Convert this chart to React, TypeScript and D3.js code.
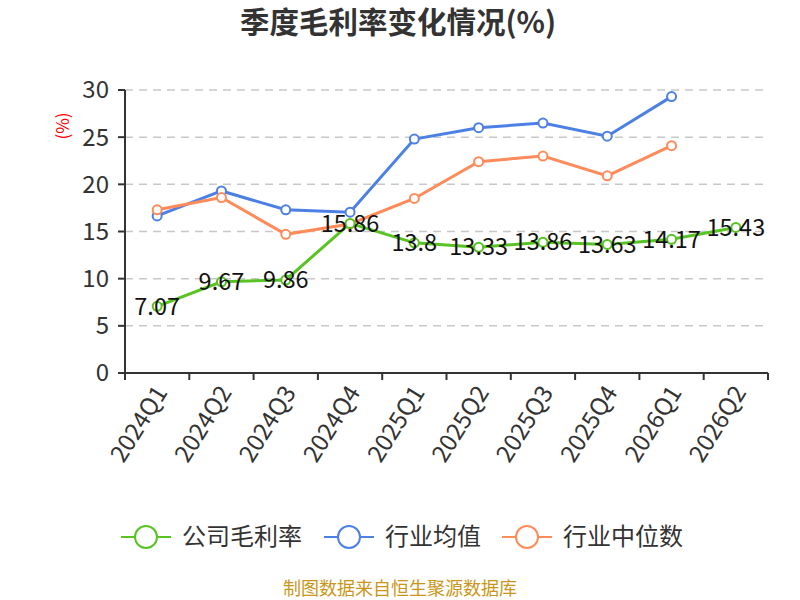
import React from "react";
import * as d3 from "d3";

const quarters = ["2024Q1", "2024Q2", "2024Q3", "2024Q4", "2025Q1", "2025Q2", "2025Q3", "2025Q4", "2026Q1", "2026Q2"];
const companyMargin = [7.07, 9.67, 9.86, 15.86, 13.8, 13.33, 13.86, 13.63, 14.17, 15.43];
const industryAvg = [16.65, 19.3, 17.3, 17.05, 24.8, 26.0, 26.5, 25.1, 29.3];
const industryMedian = [17.3, 18.6, 14.7, 15.8, 18.5, 22.4, 23.0, 20.9, 24.1];
const yTicks = [0, 5, 10, 15, 20, 25, 30];

const seriesNames = ["公司毛利率", "行业均值", "行业中位数"];
const colors = ["#58c322", "#4d80e4", "#ff8b5a"];

const font = "'Noto Sans CJK SC', 'Noto Sans', sans-serif";

const width = 800;
const height = 600;
const margin = { top: 90, right: 32, bottom: 227, left: 125 };
const innerW = width - margin.left - margin.right;
const innerH = height - margin.top - margin.bottom;

const App: React.FC = () => {
  const x = d3.scaleBand<string>().domain(quarters).range([0, innerW]);
  const y = d3.scaleLinear().domain([0, 30]).range([innerH, 0]);
  const cx = (i: number) => (x(quarters[i]) ?? 0) + x.bandwidth() / 2;

  const line = d3
    .line<number>()
    .x((_, i) => cx(i))
    .y(d => y(d));

  const allSeries = [companyMargin, industryAvg, industryMedian];
  const drawOrder = [1, 2, 0];

  const legendX = [121, 324, 502];

  return (
    <svg width={width} height={height} style={{ position: "absolute", left: 0, top: 0 }} fontFamily={font}>
      <rect width={width} height={height} fill="#fff" />
      <text x={398} y={33} textAnchor="middle" fontSize={29.5} fontWeight="bold" fill="#333">
        季度毛利率变化情况(%)
      </text>
      <text
        transform={`translate(69,${126}) rotate(-90)`}
        textAnchor="middle"
        fontSize={17}
        fill="#ff0000"
      >
        (%)
      </text>
      <g transform={`translate(${margin.left},${margin.top})`}>
        {yTicks.map(t => (
          <g key={t}>
            {t > 0 && (
              <line x1={0} x2={innerW} y1={y(t)} y2={y(t)} stroke="#c8c8c8" strokeWidth={1.5} strokeDasharray="8,6" />
            )}
            <line x1={-7} x2={0} y1={y(t)} y2={y(t)} stroke="#333" strokeWidth={2} />
            <text x={-16} y={y(t)} dy="0.35em" textAnchor="end" fontSize={24} fill="#333">
              {t}
            </text>
          </g>
        ))}
        <line x1={0} x2={0} y1={0} y2={innerH} stroke="#333" strokeWidth={2} />
        <line x1={0} x2={innerW} y1={innerH} y2={innerH} stroke="#333" strokeWidth={2} />
        {quarters.map((q, i) => (
          <line key={q} x1={x(q)} x2={x(q)} y1={innerH} y2={innerH + 7} stroke="#333" strokeWidth={2} />
        ))}
        <line x1={innerW} x2={innerW} y1={innerH} y2={innerH + 7} stroke="#333" strokeWidth={2} />
        {quarters.map((q, i) => (
          <text
            key={q}
            transform={`translate(${cx(i) + 4},${innerH + 15}) rotate(-58)`}
            textAnchor="end"
            dy="0.35em"
            fontSize={24}
            fill="#333"
          >
            {q}
          </text>
        ))}
        {drawOrder.map(s => (
          <g key={s}>
            <path d={line(allSeries[s]) ?? ""} fill="none" stroke={colors[s]} strokeWidth={3} />
            {allSeries[s].map((v, i) => (
              <circle key={i} cx={cx(i)} cy={y(v)} r={4.5} fill="#fff" stroke={colors[s]} strokeWidth={2} />
            ))}
          </g>
        ))}
        {companyMargin.map((v, i) => (
          <text key={i} x={cx(i)} y={y(v)} dy="0.35em" textAnchor="middle" fontSize={23.5} fill="#111">
            {v}
          </text>
        ))}
      </g>
      {seriesNames.map((name, s) => (
        <g key={name} transform={`translate(${legendX[s]},537)`}>
          <line x1={0} x2={50} y1={0} y2={0} stroke={colors[s]} strokeWidth={2} />
          <circle cx={25} cy={0} r={11} fill="#fff" stroke={colors[s]} strokeWidth={2} />
          <text x={61} y={0} dy="0.35em" fontSize={24} fill="#333">
            {name}
          </text>
        </g>
      ))}
      <text x={400} y={595} textAnchor="middle" fontSize={18} fill="#c9961a">
        制图数据来自恒生聚源数据库
      </text>
    </svg>
  );
};

export default App;
